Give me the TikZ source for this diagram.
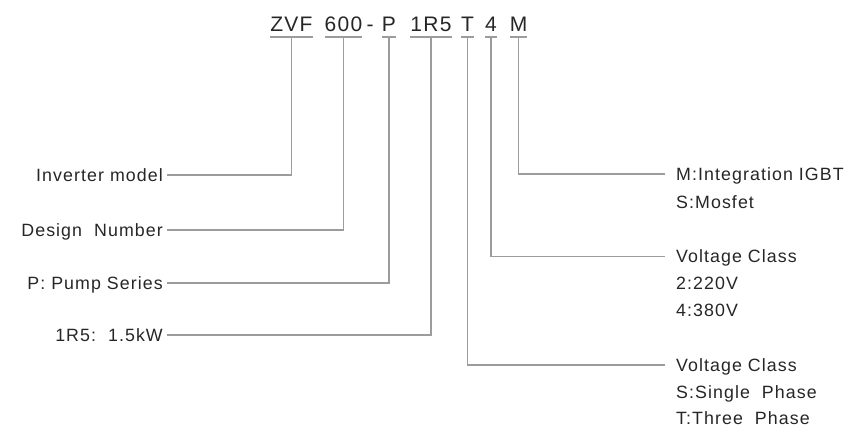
\documentclass[tikz,border=0pt]{standalone}
\usepackage{fontspec}
\setmainfont{Liberation Sans}[LetterSpace=6]
\definecolor{txt}{HTML}{262626}
\definecolor{linegray}{HTML}{9C9C9C}
\begin{document}
\begin{tikzpicture}[x=1pt,y=-1pt,
  ln/.style={draw=linegray, line width=1.2pt},
  code/.style={font=\fontsize{21}{21}\selectfont, text=txt, inner sep=0pt, text height=15pt, text depth=0pt, anchor=south},
  lab/.style={font=\fontsize{17.8}{17.8}\selectfont, text=txt, inner sep=0pt, text height=12.6pt, text depth=0pt}]
\useasboundingbox (0,0) rectangle (855,428);
% code segments
\node[code] (c1) at (291.5,32) {ZVF};
\node[code] (c2) at (343.5,32) {600};
\node[code] (dash) at (370,32) {-};
\node[code] (c3) at (389,32) {P};
\node[code] (c4) at (431,32) {1R5};
\node[code] (c5) at (467.5,32) {T};
\node[code] (c6) at (491,32) {4};
\node[code] (c7) at (518.5,32) {M};
\foreach \i in {1,...,7}{
  \draw[ln] ([yshift=-5pt]c\i.south west) -- ([yshift=-5pt]c\i.south east);
}
% left labels
\node[lab, anchor=east] (l1) at (163,175) {Inverter model};
\node[lab, anchor=east] (l2) at (163,230) {Design\ \ Number};
\node[lab, anchor=east] (l3) at (163,283) {P: Pump Series};
\node[lab, anchor=east] (l4) at (163,335) {1R5:\ \ 1.5kW};
% right labels
\node[lab, anchor=west] (r1) at (676,174) {M:Integration IGBT};
\node[lab, anchor=west] (r1b) at (676,202) {S:Mosfet};
\node[lab, anchor=west] (r2) at (676,256.5) {Voltage Class};
\node[lab, anchor=west] (r2b) at (676,283.5) {2:220V};
\node[lab, anchor=west] (r2c) at (676,310.5) {4:380V};
\node[lab, anchor=west] (r3) at (676,365) {Voltage Class};
\node[lab, anchor=west] (r3b) at (676,392) {S:Single\ \ Phase};
\node[lab, anchor=west] (r3c) at (676,418.5) {T:Three\ \ Phase};
% connectors
\draw[ln, shorten >=4pt] ([yshift=-5pt]c1.south) |- (l1.east);
\draw[ln, shorten >=4pt] ([yshift=-5pt]c2.south) |- (l2.east);
\draw[ln, shorten >=4pt] ([yshift=-5pt]c3.south) |- (l3.east);
\draw[ln, shorten >=4pt] ([yshift=-5pt]c4.south) |- (l4.east);
\draw[ln, shorten >=11pt] ([yshift=-5pt]c7.south) |- (r1.west);
\draw[ln, shorten >=11pt] ([yshift=-5pt]c6.south) |- (r2.west);
\draw[ln, shorten >=11pt] ([yshift=-5pt]c5.south) |- (r3.west);
\end{tikzpicture}
\end{document}
